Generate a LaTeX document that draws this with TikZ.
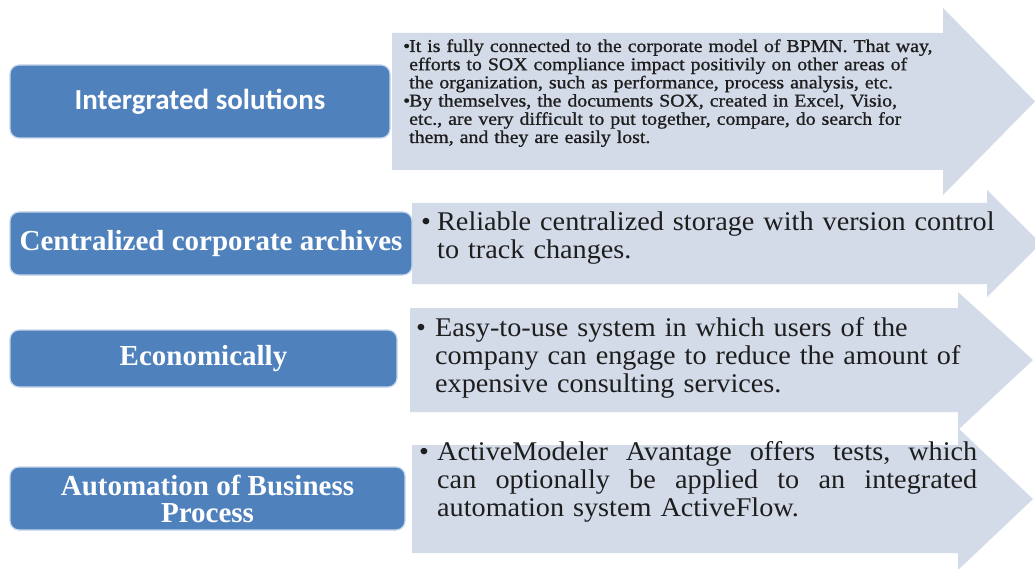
\documentclass[tikz,border=0pt]{standalone}
\usepackage{fontspec}
\setmainfont{Liberation Serif}
\newfontfamily\labelsans{Carlito}
\newfontfamily\widefont[FakeStretch=1.1, FakeBold=1]{Liberation Serif}
\newfontfamily\bodyfont[FakeStretch=1.045]{Liberation Serif}

\definecolor{boxblue}{RGB}{79,129,189}
\definecolor{boxrim}{RGB}{196,214,236}
\definecolor{arrowfill}{RGB}{211,218,232}
\definecolor{inktext}{RGB}{30,30,30}

\tikzset{
  topic/.style={rounded corners=9pt, fill=boxblue, draw=boxrim, line width=1.2pt,
                text=white, inner sep=0pt, align=center},
  serifhead/.style={font=\fontsize{29}{27}\selectfont\bfseries},
  sanshead/.style={font=\labelsans\fontsize{29}{30}\selectfont\bfseries},
  note/.style={inner sep=0pt, anchor=base west, text=inktext, align=left},
  smallnote/.style={note, text width=600pt, font=\widefont\fontsize{18}{18.2}\selectfont},
  bignote/.style={note, text width=600pt, font=\bodyfont\fontsize{27}{28}\selectfont},
}

% bullet hung to the left of the text margin
\newcommand\hangbullet[1]{\leavevmode\llap{\makebox[#1][l]{•}}}

% block arrow: left, top, bottom, head base x, head top, head bottom, tip x
\newcommand\flowarrow[7]{%
  \fill[arrowfill] (#1,#2) -- (#4,#2) -- (#4,#5) -- (#7,{(#2+#3)/2})
    -- (#4,#6) -- (#4,#3) -- (#1,#3) -- cycle;}

\begin{document}
\begin{tikzpicture}[x=1pt, y=-1pt]
\useasboundingbox (0,0) rectangle (1035,569);
\clip (0,0) rectangle (1035,569);

% grey block arrows
\flowarrow{392}{33}{170}{943}{8}{195}{1035}
\flowarrow{412}{203}{284}{987}{190}{297}{1041}
\flowarrow{410}{308}{412}{958}{292}{430}{1033}
\flowarrow{412}{445}{553}{958}{428}{570}{1033}

% blue topic boxes
\node[topic, sanshead, minimum width=380pt, minimum height=73pt] (b1) at (200,101.5) {Intergrated solutions};
\node[topic, serifhead, minimum width=402pt, minimum height=63pt] (b2) at (211,243.5) {Centralized corporate archives};
\node[topic, serifhead, minimum width=387pt, minimum height=57pt] (b3) at (203.5,358.5) {Economically};
\node[topic, serifhead, minimum width=395pt, minimum height=63pt] (b4) at (207.5,498.5) {Automation of Business\\Process};

% bullet texts
\node[smallnote] (t1) at (409,52) {%
  \hangbullet{6pt}It is fully connected to the corporate model of BPMN. That way,\\
  efforts to SOX compliance impact positivily on other areas of\\
  the organization, such as performance, process analysis, etc.\\
  \hangbullet{6pt}By themselves, the documents SOX, created in Excel, Visio,\\
  etc., are very difficult to put together, compare, do search for\\
  them, and they are easily lost.};

\node[bignote] (t2) at (437,231) {%
  \hangbullet{16pt}Reliable centralized storage with version control\\
  to track changes.};

\node[bignote] (t3) at (435,336) {%
  \hangbullet{19pt}Easy-to-use system in which users of the\\
  company can engage to reduce the amount of\\
  expensive consulting services.};

% justified paragraph: the first two lines are spread to the full measure
\node[bignote] (t4) at (437,460) {%
  \hangbullet{18pt}\makebox[540pt][l]{ActiveModeler\hfill Avantage\hfill offers\hfill tests,\hfill which}\\
  \makebox[540pt][l]{can\hfill optionally\hfill be\hfill applied\hfill to\hfill an\hfill integrated}\\
  automation system ActiveFlow.};
\end{tikzpicture}
\end{document}
